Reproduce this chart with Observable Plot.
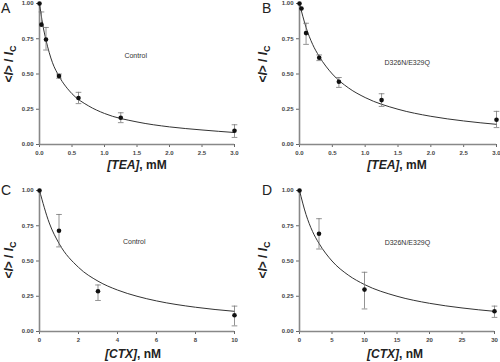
<!DOCTYPE html>
<html>
<head>
<meta charset="utf-8">
<script src="https://cdn.jsdelivr.net/npm/d3@7"></script>
<script src="https://cdn.jsdelivr.net/npm/@observablehq/plot@0.6"></script>
<style>
  html, body { margin: 0; padding: 0; background: #fff; }
  body { width: 500px; height: 362px; position: relative; overflow: hidden; font-family: "Liberation Sans", Arial, sans-serif; }
  .panel { position: absolute; width: 250px; height: 181px; }
  .lbl { position: absolute; color: #222; white-space: nowrap; }
  .letter { font-size: 14px; line-height: 1; }
  .xl { font-size: 12px; font-weight: bold; transform: translate(-50%, -50%); }
  .yl { font-size: 12px; font-weight: bold; transform: translate(-50%, -50%) rotate(-90deg); }
  .yl sub { font-size: 9px; }
</style>
</head>
<body>
<script>
// ---- Data ----
// Panel A: TEA, Control
const teaA_x   = [0, 0.03, 0.1, 0.3, 0.6, 1.25, 3.0];
const teaA_y   = [1.00, 0.85, 0.745, 0.485, 0.33, 0.19, 0.097];
const teaA_lo  = [1.00, 0.85, 0.67, 0.47, 0.29, 0.155, 0.05];
const teaA_hi  = [1.00, 0.94, 0.83, 0.50, 0.37, 0.225, 0.14];
const fitA_x   = [0, 0.05, 0.1, 0.2, 0.3, 0.5, 0.75, 1.0, 1.5, 2.0, 2.5, 3.0];
const fitA_y   = [1.0, 0.85, 0.74, 0.58, 0.485, 0.36, 0.275, 0.22, 0.16, 0.125, 0.103, 0.085];

// Panel B: TEA, D326N/E329Q
const teaB_x   = [0, 0.03, 0.1, 0.3, 0.6, 1.25, 3.0];
const teaB_y   = [1.00, 0.965, 0.79, 0.615, 0.445, 0.315, 0.175];
const teaB_lo  = [1.00, 0.965, 0.71, 0.595, 0.405, 0.27, 0.12];
const teaB_hi  = [1.00, 0.965, 0.86, 0.635, 0.475, 0.36, 0.235];
const fitB_x   = [0, 0.05, 0.1, 0.2, 0.3, 0.5, 0.75, 1.0, 1.5, 2.0, 2.5, 3.0];
const fitB_y   = [1.0, 0.91, 0.83, 0.71, 0.625, 0.50, 0.40, 0.333, 0.25, 0.20, 0.167, 0.143];

// Panel C: CTX, Control
const ctxC_x   = [0, 1, 3, 10];
const ctxC_y   = [1.00, 0.715, 0.285, 0.115];
const ctxC_lo  = [1.00, 0.60, 0.22, 0.04];
const ctxC_hi  = [1.00, 0.83, 0.33, 0.18];
const fitC_x   = [0, 0.5, 1, 2, 3, 4, 5, 6, 8, 10];
const fitC_y   = [1.0, 0.77, 0.625, 0.455, 0.357, 0.294, 0.25, 0.217, 0.172, 0.143];

// Panel D: CTX, D326N/E329Q
const ctxD_x   = [0, 3, 10, 30];
const ctxD_y   = [1.00, 0.693, 0.297, 0.144];
const ctxD_lo  = [1.00, 0.585, 0.16, 0.10];
const ctxD_hi  = [1.00, 0.80, 0.42, 0.18];
const fitD_x   = [0, 1, 2, 3, 5, 7.5, 10, 15, 20, 25, 30];
const fitD_y   = [1.0, 0.83, 0.71, 0.625, 0.50, 0.40, 0.333, 0.25, 0.20, 0.167, 0.143];

const yTicks = [0, 0.25, 0.5, 0.75, 1.0];
const xTicksTEA = [0, 0.5, 1.0, 1.5, 2.0, 2.5, 3.0];
const xTicksC = [0, 2, 4, 6, 8, 10];
const xTicksD = [0, 5, 10, 15, 20, 25, 30];

const zip = (xs, ys, lo, hi) => xs.map((x, i) => ({x, y: ys[i], lo: lo ? lo[i] : null, hi: hi ? hi[i] : null}));

const capSymbol = {
  draw(ctx, size) {
    const w = Math.sqrt(size) / 2;
    ctx.moveTo(-w, 0);
    ctx.lineTo(w, 0);
  }
};

function panel({left, top, margins, xDomain, xTicks, xFmt, pts, fit, note, noteX, noteY}) {
  const data = pts;
  const eb = data.filter(d => d.hi > d.lo);
  const capsHi = data.filter(d => d.hi > d.y);
  const capsLo = data.filter(d => d.lo < d.y);
  const chart = Plot.plot({
    width: 250,
    height: 181,
    marginLeft: margins[0],
    marginRight: margins[1],
    marginTop: margins[2],
    marginBottom: margins[3],
    style: {fontFamily: "Liberation Sans, Arial, sans-serif", background: "transparent", overflow: "visible"},
    x: {domain: xDomain},
    y: {domain: [0, 1]},
    marks: [
      Plot.axisY({ticks: yTicks, tickFormat: d3.format(".2f"), tickSize: 3, tickPadding: 3, fontSize: 6, fontWeight: "bold", fill: "#444", stroke: "#666", label: null}),
      Plot.axisX({ticks: xTicks, tickFormat: xFmt, tickSize: 3, tickPadding: 3, fontSize: 6, fontWeight: "bold", fill: "#444", stroke: "#666", label: null}),
      Plot.ruleX([xDomain[0]], {stroke: "#888", strokeWidth: 1.6}),
      Plot.ruleY([0], {stroke: "#888", strokeWidth: 1.6}),
      Plot.line(fit, {x: "x", y: "y", curve: "monotone-x", stroke: "#333", strokeWidth: 1}),
      Plot.ruleX(eb, {x: "x", y1: "lo", y2: "hi", stroke: "#777", strokeWidth: 0.8}),
      Plot.dot(capsHi, {x: "x", y: "hi", symbol: capSymbol, r: 3.2, stroke: "#777", strokeWidth: 0.8, fill: "none"}),
      Plot.dot(capsLo, {x: "x", y: "lo", symbol: capSymbol, r: 3.2, stroke: "#777", strokeWidth: 0.8, fill: "none"}),
      Plot.dot(data, {x: "x", y: "y", r: 2.3, fill: "#111", stroke: "none"}),
      Plot.text([note], {x: () => noteX, y: () => noteY, text: d => d, fontSize: 7, fill: "#333"})
    ]
  });
  const div = document.createElement("div");
  div.className = "panel";
  div.style.left = left + "px";
  div.style.top = top + "px";
  div.appendChild(chart);
  document.body.appendChild(div);
}

panel({left: 0, top: 0, margins: [39, 16, 3, 37], xDomain: [0, 3], xTicks: xTicksTEA, xFmt: d3.format(".1f"),
  pts: zip(teaA_x, teaA_y, teaA_lo, teaA_hi), fit: zip(fitA_x, fitA_y), note: "Control", noteX: 1.48, noteY: 0.63});
panel({left: 250, top: 0, margins: [49, 4, 3, 37], xDomain: [0, 3], xTicks: xTicksTEA, xFmt: d3.format(".1f"),
  pts: zip(teaB_x, teaB_y, teaB_lo, teaB_hi), fit: zip(fitB_x, fitB_y), note: "D326N/E329Q", noteX: 1.64, noteY: 0.58});
panel({left: 0, top: 181, margins: [39, 16, 9, 31], xDomain: [0, 10], xTicks: xTicksC, xFmt: d3.format("d"),
  pts: zip(ctxC_x, ctxC_y, ctxC_lo, ctxC_hi), fit: zip(fitC_x, fitC_y), note: "Control", noteX: 4.86, noteY: 0.64});
panel({left: 250, top: 181, margins: [49, 6, 9, 31], xDomain: [0, 30], xTicks: xTicksD, xFmt: d3.format("d"),
  pts: zip(ctxD_x, ctxD_y, ctxD_lo, ctxD_hi), fit: zip(fitD_x, fitD_y), note: "D326N/E329Q", noteX: 16.6, noteY: 0.63});

// ---- Labels (HTML text) ----
const labels = [
  {cls: "letter", html: "A", x: 1, y: 1},
  {cls: "letter", html: "B", x: 262, y: 1},
  {cls: "letter", html: "C", x: 1, y: 183},
  {cls: "letter", html: "D", x: 262, y: 183},
  {cls: "xl", html: "<i>[TEA]</i>, mM", x: 137, y: 165},
  {cls: "xl", html: "<i>[TEA]</i>, mM", x: 397, y: 165},
  {cls: "xl", html: "<i>[CTX]</i>, nM", x: 133, y: 354},
  {cls: "xl", html: "<i>[CTX]</i>, nM", x: 395, y: 354},
  {cls: "yl", html: "&lt;<i>I</i>&gt; / <i>I</i><sub>C</sub>", x: 10, y: 64},
  {cls: "yl", html: "&lt;<i>I</i>&gt; / <i>I</i><sub>C</sub>", x: 264, y: 64},
  {cls: "yl", html: "&lt;<i>I</i>&gt; / <i>I</i><sub>C</sub>", x: 10, y: 260},
  {cls: "yl", html: "&lt;<i>I</i>&gt; / <i>I</i><sub>C</sub>", x: 264, y: 260}
];
for (const l of labels) {
  const el = document.createElement("div");
  el.className = "lbl " + l.cls;
  el.innerHTML = l.html;
  el.style.left = l.x + "px";
  el.style.top = l.y + "px";
  document.body.appendChild(el);
}
</script>
</body>
</html>
